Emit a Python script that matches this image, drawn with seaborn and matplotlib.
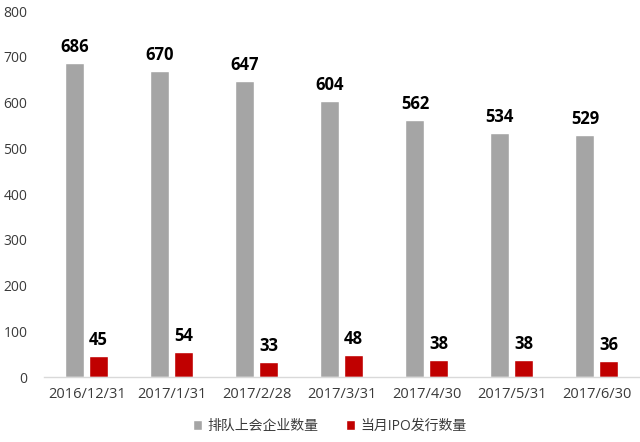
import pandas as pd
import matplotlib
matplotlib.use('Agg')
from matplotlib import pyplot as plt
import seaborn as sns

# 数据
dates = ['2016/12/31', '2017/1/31', '2017/2/28', '2017/3/31', '2017/4/30', '2017/5/31', '2017/6/30']
queue = [686, 670, 647, 604, 562, 534, 529]
ipo = [45, 54, 33, 48, 38, 38, 36]
series_names = ['排队上会企业数量', '当月IPO发行数量']

df = pd.DataFrame({
    'date': dates * 2,
    'value': queue + ipo,
    'series': [series_names[0]] * len(dates) + [series_names[1]] * len(dates),
})

sns.set_theme(style='white')
plt.rcParams['font.family'] = ['Open Sans', 'Noto Sans CJK SC', 'DejaVu Sans']

fig = plt.figure(figsize=(6.4, 4.42), dpi=100)
ax = fig.add_axes([0.069, 0.147, 0.93, 0.828])

sns.barplot(data=df, x='date', y='value', hue='series', hue_order=series_names,
            palette=['#a5a5a5', '#c00000'], width=0.56, gap=0.2, saturation=1,
            ax=ax, legend=True)

for cont in ax.containers:
    ax.bar_label(cont, fontsize=12, fontweight='bold', color='black', padding=5)

ax.set_ylim(0, 800)
ax.set_yticks(range(0, 801, 100))
ax.set_xlabel('')
ax.set_ylabel('')
ax.tick_params(axis='both', length=0, labelsize=10, colors='#3a3a3a')
ax.tick_params(axis='x', labelsize=10.5, pad=7)
ax.tick_params(axis='y', pad=12)
for s in ['top', 'right', 'left']:
    ax.spines[s].set_visible(False)
ax.spines['bottom'].set_color('#d9d9d9')
ax.spines['bottom'].set_linewidth(1)

ax.get_legend().remove()
handles, labels = ax.get_legend_handles_labels()
fig.legend(handles[:2], labels[:2], loc='lower center', bbox_to_anchor=(0.515, -0.01),
           ncol=2, frameon=False, fontsize=10, handlelength=0.65, handleheight=0.65,
           handletextpad=0.4, columnspacing=2.0, labelcolor='#3a3a3a')

fig.savefig('out.png', dpi=100)
